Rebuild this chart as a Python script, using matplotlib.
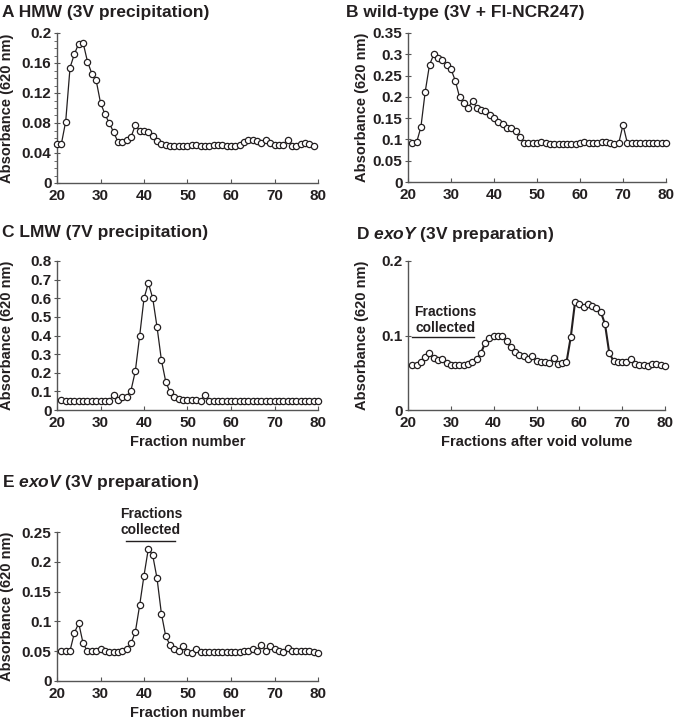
import matplotlib
matplotlib.use('Agg')
import matplotlib.pyplot as plt
from matplotlib.ticker import MultipleLocator

plt.rcParams['font.family'] = ['Liberation Sans', 'DejaVu Sans']
plt.rcParams['font.weight'] = 'bold'
plt.rcParams['mathtext.fontset'] = 'custom'
plt.rcParams['mathtext.bfit'] = 'Liberation Sans:italic:bold'
plt.rcParams['mathtext.rm'] = 'Liberation Sans:bold'

INK = '#231f20'
AXC = '#555555'

# ---- data (fraction number vs absorbance at 620 nm)
a_x = list(range(20, 80))
a_y = [0.052, 0.052, 0.082, 0.154, 0.172, 0.186, 0.187, 0.162, 0.146, 0.137,
       0.107, 0.092, 0.080, 0.068, 0.055, 0.055, 0.057, 0.061, 0.077, 0.070,
       0.069, 0.068, 0.063, 0.056, 0.052, 0.051, 0.050, 0.050, 0.049, 0.049,
       0.050, 0.051, 0.051, 0.049, 0.049, 0.050, 0.051, 0.051, 0.051, 0.050,
       0.050, 0.050, 0.051, 0.055, 0.058, 0.058, 0.056, 0.053, 0.057, 0.053,
       0.051, 0.051, 0.051, 0.058, 0.050, 0.050, 0.052, 0.053, 0.052, 0.050]

b_x = list(range(21, 81))
b_y = [0.091, 0.093, 0.129, 0.212, 0.275, 0.300, 0.292, 0.287, 0.276, 0.265,
       0.238, 0.199, 0.185, 0.175, 0.190, 0.175, 0.168, 0.167, 0.158, 0.150,
       0.142, 0.136, 0.128, 0.128, 0.120, 0.106, 0.092, 0.091, 0.091, 0.091,
       0.095, 0.092, 0.090, 0.090, 0.090, 0.090, 0.090, 0.090, 0.090, 0.091,
       0.093, 0.092, 0.091, 0.091, 0.093, 0.093, 0.091, 0.090, 0.091, 0.134,
       0.092, 0.092, 0.092, 0.092, 0.092, 0.092, 0.092, 0.091, 0.091, 0.091]

c_x = list(range(21, 81))
c_y = [0.054, 0.050, 0.049, 0.049, 0.049, 0.049, 0.050, 0.050, 0.050, 0.049,
       0.049, 0.050, 0.080, 0.052, 0.068, 0.072, 0.104, 0.208, 0.397, 0.599,
       0.682, 0.601, 0.445, 0.268, 0.152, 0.095, 0.068, 0.057, 0.054, 0.054,
       0.054, 0.054, 0.050, 0.080, 0.049, 0.048, 0.048, 0.048, 0.048, 0.048,
       0.048, 0.048, 0.048, 0.048, 0.049, 0.049, 0.049, 0.049, 0.049, 0.050,
       0.049, 0.048, 0.048, 0.048, 0.048, 0.048, 0.048, 0.048, 0.048, 0.048]

d_x = list(range(21, 81))
d_y = [0.060, 0.061, 0.065, 0.071, 0.076, 0.070, 0.067, 0.069, 0.063, 0.061,
       0.060, 0.060, 0.061, 0.062, 0.064, 0.068, 0.076, 0.090, 0.097, 0.100,
       0.100, 0.099, 0.092, 0.085, 0.078, 0.074, 0.072, 0.068, 0.072, 0.066,
       0.065, 0.064, 0.063, 0.070, 0.062, 0.063, 0.064, 0.098, 0.145, 0.142,
       0.138, 0.142, 0.139, 0.137, 0.132, 0.115, 0.076, 0.066, 0.065, 0.064,
       0.064, 0.068, 0.062, 0.061, 0.060, 0.059, 0.062, 0.062, 0.060, 0.059]

e_x = list(range(21, 81))
e_y = [0.050, 0.050, 0.051, 0.081, 0.097, 0.063, 0.050, 0.050, 0.051, 0.053,
       0.050, 0.049, 0.048, 0.048, 0.050, 0.054, 0.063, 0.082, 0.127, 0.177,
       0.222, 0.211, 0.172, 0.113, 0.075, 0.060, 0.054, 0.050, 0.059, 0.048,
       0.047, 0.053, 0.049, 0.049, 0.049, 0.049, 0.049, 0.049, 0.049, 0.049,
       0.049, 0.049, 0.050, 0.051, 0.053, 0.051, 0.061, 0.051, 0.059, 0.054,
       0.050, 0.049, 0.056, 0.050, 0.050, 0.050, 0.050, 0.051, 0.049, 0.047]

x_ticks = [20, 30, 40, 50, 60, 70, 80]
a_ticks = [0, 0.04, 0.08, 0.12, 0.16, 0.2]
a_lbls = ['0', '0.04', '0.08', '0.12', '0.16', '0.2']
b_ticks = [0, 0.05, 0.1, 0.15, 0.2, 0.25, 0.3, 0.35]
b_lbls = ['0', '0.05', '0.1', '0.15', '0.2', '0.25', '0.3', '0.35']
c_ticks = [0, 0.1, 0.2, 0.3, 0.4, 0.5, 0.6, 0.7, 0.8]
c_lbls = ['0', '0.1', '0.2', '0.3', '0.4', '0.5', '0.6', '0.7', '0.8']
d_ticks = [0, 0.1, 0.2]
d_lbls = ['0', '0.1', '0.2']
e_ticks = [0, 0.05, 0.1, 0.15, 0.2, 0.25]
e_lbls = ['0', '0.05', '0.1', '0.15', '0.2', '0.25']

fig = plt.figure(figsize=(6.75, 7.22), dpi=100)

W, H = 675., 722.
def box(l, r, t, b):
    return [l / W, 1 - b / H, (r - l) / W, (b - t) / H]

def panel(rect, xs, ys, yt, yl, ytop, lw=0.9, minor=None, xlabel=None, lblx=-0.16):
    ax = fig.add_axes(rect)
    ax.plot(xs, ys, '-o', color=INK, lw=lw, ms=4.5, mfc='white', mec=INK, mew=0.9,
            clip_on=False, zorder=3)
    ax.set_xlim(20, 80)
    ax.set_ylim(0, ytop)
    for s in ['top', 'right']:
        ax.spines[s].set_visible(False)
    for s in ['left', 'bottom']:
        ax.spines[s].set_color(AXC)
        ax.spines[s].set_linewidth(1.0)
    ax.set_xticks(x_ticks)
    ax.set_xticklabels([str(v) for v in x_ticks], fontsize=11, color=INK, fontweight='bold')
    ax.set_yticks(yt)
    ax.set_yticklabels(yl, fontsize=11, color=INK, fontweight='bold')
    ax.tick_params(axis='x', direction='in', length=3, color=AXC, pad=4)
    ax.tick_params(axis='y', direction='inout', length=4, color=AXC, pad=2)
    if minor is not None:
        ax.yaxis.set_minor_locator(MultipleLocator(minor))
        ax.tick_params(axis='y', which='minor', direction='out', length=2, color=AXC)
    ax.set_ylabel('Absorbance (620 nm)', fontsize=10.5, color=INK, fontweight='bold')
    ax.yaxis.set_label_coords(lblx, 0.5)
    if xlabel:
        ax.set_xlabel(xlabel, fontsize=10.5, color=INK, fontweight='bold', va='top')
        ax.xaxis.set_label_coords(0.5, -0.165)
    return ax

ax_a = panel(box(57, 318, 33, 183), a_x, a_y, a_ticks, a_lbls, 0.2, minor=0.01, lblx=-0.165)
ax_b = panel(box(408, 666, 33, 182), b_x, b_y, b_ticks, b_lbls, 0.35, lblx=-0.152)
ax_c = panel(box(57, 318, 261, 410), c_x, c_y, c_ticks, c_lbls, 0.8,
             xlabel='Fraction number', lblx=-0.165)
ax_d = panel(box(408, 665, 261, 410), d_x, d_y, d_ticks, d_lbls, 0.2, lw=1.5,
             xlabel='Fractions after void volume', lblx=-0.152)
ax_e = panel(box(57, 318, 532, 681), e_x, e_y, e_ticks, e_lbls, 0.25,
             xlabel='Fraction number', lblx=-0.165)

# fractions collected markers
ax_d.plot([21, 35.3], [0.098, 0.098], color=INK, lw=1.0)
ax_d.text(28.7, 0.121, 'Fractions\ncollected', ha='center', va='center', fontsize=10,
          color=INK, fontweight='bold', linespacing=1.15)
ax_e.plot([35.8, 47.1], [0.235, 0.235], color=INK, lw=1.0, clip_on=False)
ax_e.text(41.6, 0.267, 'Fractions\ncollected', ha='center', va='center', fontsize=10,
          color=INK, fontweight='bold', linespacing=1.15, clip_on=False)

# panel titles
tkw = dict(fontsize=12.5, color=INK, fontweight='bold', va='center', ha='left')
fig.text(2 / W, 1 - 13 / H, 'A HMW (3V precipitation)', **tkw)
fig.text(346 / W, 1 - 13 / H, 'B wild-type (3V + Fl-NCR247)', **tkw)
fig.text(2 / W, 1 - 233 / H, 'C LMW (7V precipitation)', **tkw)
fig.text(356 / W, 1 - 235 / H, r'D $\mathbfit{exoY}$ (3V preparation)', **tkw)
fig.text(2 / W, 1 - 483 / H, r'E $\mathbfit{exoV}$ (3V preparation)', **tkw)

fig.savefig('out.png', dpi=100)
